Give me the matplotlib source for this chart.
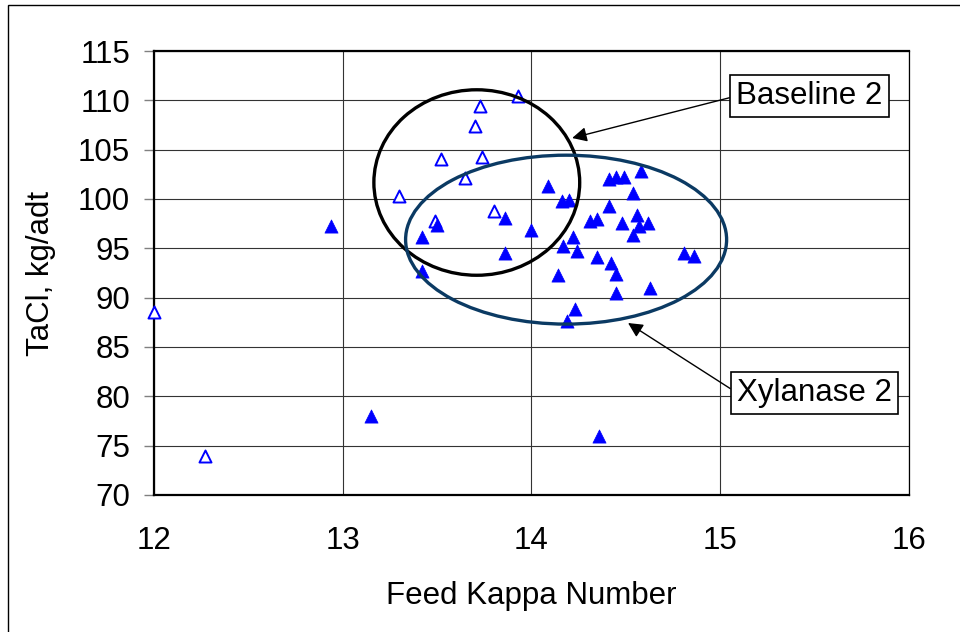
import matplotlib
matplotlib.use('Agg')
import matplotlib.pyplot as plt
from matplotlib.patches import Ellipse, Rectangle

plt.rcParams['font.family'] = ['Liberation Sans', 'DejaVu Sans']

# Xylanase (triangulos llenos)
xyl_kappa = [12.94, 13.15, 13.42, 13.42, 13.50, 13.86, 13.86, 14.00, 14.09, 14.16,
             14.20, 14.14, 14.17, 14.22, 14.24, 14.23, 14.19, 14.31, 14.35, 14.41,
             14.41, 14.45, 14.49, 14.58, 14.54, 14.48, 14.56, 14.57, 14.62, 14.54,
             14.35, 14.42, 14.45, 14.45, 14.63, 14.81, 14.86, 14.36]
xyl_tacl = [97.3, 78.0, 96.1, 92.7, 97.4, 98.1, 94.5, 96.9, 101.3, 99.8,
            99.9, 92.3, 95.2, 96.1, 94.7, 88.9, 87.6, 97.8, 98.0, 99.3,
            102.0, 102.2, 102.2, 102.8, 100.6, 97.6, 98.4, 97.3, 97.6, 96.4,
            94.1, 93.5, 92.4, 90.5, 91.0, 94.5, 94.2, 76.0]

# Baseline (triangulos vacios)
base_kappa = [12.00, 12.27, 13.30, 13.49, 13.52, 13.65, 13.70, 13.73, 13.74, 13.80, 13.93]
base_tacl = [88.5, 74.0, 100.3, 97.8, 104.1, 102.1, 107.4, 109.4, 104.3, 98.75, 110.4]

x_ticks = [12, 13, 14, 15, 16]
y_ticks = [70, 75, 80, 85, 90, 95, 100, 105, 110, 115]

FS = 22.5

fig = plt.figure(figsize=(9.6, 6.32), dpi=100)
ax = fig.add_axes([0.1601, 0.2168, 0.7868, 0.7025])

# marco exterior
fig.patches.append(Rectangle((8 / 960, -0.1), 1.2, 1.1 - 5 / 632, transform=fig.transFigure,
                             fill=False, edgecolor='black', linewidth=1.0))

ax.scatter(base_kappa, base_tacl, marker='^', s=75, facecolors='white',
           edgecolors='#0000ff', linewidths=1.4, zorder=3, clip_on=False)
ax.scatter(xyl_kappa, xyl_tacl, marker='^', s=90, color='#0000ff',
           edgecolors='#0000ff', linewidths=0.5, zorder=4, clip_on=False)

# elipses de agrupacion
ax.add_patch(Ellipse((13.711, 101.67), 1.09, 18.8, fill=False,
                     edgecolor='black', linewidth=2.4, zorder=5))
ax.add_patch(Ellipse((14.184, 95.88), 1.70, 17.12, fill=False,
                     edgecolor='#0b3a63', linewidth=2.4, zorder=5))

box = dict(boxstyle='square,pad=0.2', facecolor='white', edgecolor='black', linewidth=1.2)
ax.annotate('Baseline 2', xy=(14.216, 106.18), xytext=(15.473, 110.44),
            ha='center', va='center', fontsize=FS, bbox=box, zorder=6,
            arrowprops=dict(arrowstyle='-|>', color='black', lw=1.0,
                            mutation_scale=22, relpos=(0, 0.5), shrinkA=0, shrinkB=0))
ax.annotate('Xylanase 2', xy=(14.512, 87.43), xytext=(15.50, 80.34),
            ha='center', va='center', fontsize=FS, bbox=box, zorder=6,
            arrowprops=dict(arrowstyle='-|>', color='black', lw=1.0,
                            mutation_scale=22, relpos=(0, 0.5), shrinkA=0, shrinkB=0))

ax.set_xlim(12, 16)
ax.set_ylim(70, 115)
ax.set_xticks(x_ticks)
ax.set_yticks(y_ticks)
ax.grid(True, color='#333333', linewidth=0.8)
ax.set_axisbelow(True)

ax.tick_params(axis='y', length=7, width=1, color='#808080', labelsize=FS, pad=10)
ax.tick_params(axis='x', length=0, labelsize=FS, pad=22)

for side in ['left', 'bottom', 'top']:
    ax.spines[side].set_linewidth(1.6)
ax.spines['right'].set_linewidth(0.9)

ax.set_xlabel('Feed Kappa Number', fontsize=FS, labelpad=18)
ax.set_ylabel('TaCl, kg/adt', fontsize=FS, labelpad=16)

fig.savefig('out.png', dpi=100)
